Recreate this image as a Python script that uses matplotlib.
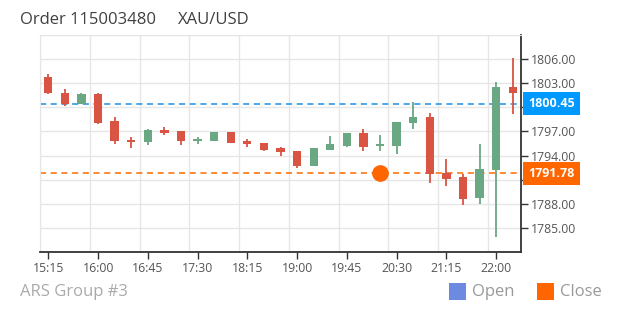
import matplotlib.pyplot as plt
from matplotlib.patches import Rectangle
from matplotlib.transforms import blended_transform_factory

plt.rcParams['font.family'] = ['Open Sans', 'DejaVu Sans']

# 15 minute candles, 15:15 .. 22:15
times = ['15:15', '15:30', '15:45', '16:00', '16:15', '16:30', '16:45', '17:00',
         '17:15', '17:30', '17:45', '18:00', '18:15', '18:30', '18:45', '19:00',
         '19:15', '19:30', '19:45', '20:00', '20:15', '20:30', '20:45', '21:00',
         '21:15', '21:30', '21:45', '22:00', '22:15']
opens = [1803.75, 1801.8, 1800.4, 1801.6, 1798.3, 1795.9, 1795.7, 1797.2,
         1797.05, 1795.8, 1795.8, 1796.95, 1795.75, 1795.6, 1794.9, 1794.55,
         1792.75, 1794.7, 1795.15, 1796.8, 1795.15, 1795.2, 1798.05, 1798.75,
         1791.8, 1791.3, 1788.7, 1792.2, 1802.55]
highs = [1804.1, 1802.25, 1801.8, 1801.8, 1798.75, 1796.25, 1797.25, 1797.55,
         1797.05, 1796.3, 1796.95, 1796.95, 1796.05, 1795.6, 1795.05, 1794.55,
         1795.0, 1796.45, 1796.8, 1797.3, 1796.6, 1798.2, 1800.65, 1799.3,
         1793.55, 1791.7, 1795.4, 1803.15, 1806.2]
lows = [1801.7, 1800.2, 1800.4, 1797.9, 1795.45, 1794.95, 1795.3, 1796.6,
        1795.3, 1795.45, 1795.8, 1795.6, 1795.1, 1794.55, 1793.95, 1792.45,
        1792.75, 1794.7, 1795.05, 1794.6, 1794.6, 1794.15, 1797.3, 1790.6,
        1790.2, 1787.8, 1787.95, 1783.9, 1799.2]
closes = [1801.8, 1800.4, 1801.65, 1798.1, 1795.8, 1795.7, 1797.15, 1796.8,
          1795.8, 1796.1, 1796.95, 1795.6, 1795.45, 1794.75, 1794.45, 1792.75,
          1794.9, 1795.4, 1796.8, 1795.1, 1795.45, 1798.2, 1798.75, 1791.75,
          1791.05, 1788.6, 1792.3, 1802.5, 1801.8]

tick_labels = ['15:15', '16:00', '16:45', '17:30', '18:15', '19:00', '19:45',
               '20:30', '21:15', '22:00']
y_ticks = [1785, 1788, 1791, 1794, 1797, 1800, 1803, 1806]

open_price = 1800.45
close_price = 1791.78
close_time = '20:15'


def to_min(s):
    h, m = s.split(':')
    return int(h) * 60 + int(m)


def main():
    W, H = 620, 310
    fig = plt.figure(figsize=(6.2, 3.1), dpi=100)
    left, right, top, bottom = 40, 521, 35, 252
    ax = fig.add_axes([left / W, 1 - bottom / H, (right - left) / W, (bottom - top) / H])

    red = '#d95443'
    green = '#6aa884'
    x = [to_min(t) for t in times]
    for xi, o, hi, lo, c in zip(x, opens, highs, lows, closes):
        col = green if c >= o else red
        ax.vlines(xi, lo, hi, color=col, lw=1.3, zorder=3)
        b = min(o, c)
        h = max(abs(c - o), 0.25)
        ax.bar(xi, h, bottom=b, width=7.5, color=col, zorder=4)

    ax.axhline(open_price, color='#1a8fe6', lw=1.1, ls=(0, (4, 3)), zorder=2)
    ax.axhline(close_price, color='#ff6a00', lw=1.1, ls=(0, (4, 3)), zorder=2)
    ax.plot(to_min(close_time), close_price, 'o', color='#ff6600', ms=11, zorder=5)

    x0 = to_min(times[0]) - 7.5
    x1 = to_min('22:00') + 22.5
    ax.set_xlim(x0, x1)
    ax.set_ylim(1782, 1809)

    # grid: vertical lines sit half a candle before each label
    tick_x = [to_min(t) for t in tick_labels]
    for gx in tick_x:
        ax.axvline(gx - 7.5, color='#e6e6e6', lw=1, zorder=0)
    for gy in range(1782, 1810, 3):
        ax.axhline(gy, color='#e6e6e6', lw=1, zorder=0)

    ax.set_xticks(tick_x)
    ax.set_xticklabels(tick_labels)
    ax.yaxis.tick_right()
    ax.set_yticks(y_ticks)
    ax.set_yticklabels(['' if v in (1800, 1791) else f'{v:.2f}' for v in y_ticks])
    ax.tick_params(axis='both', labelsize=8.8, colors='#333333', labelcolor='#555555',
                   length=5, width=1, pad=2)

    for s in ['left', 'top']:
        ax.spines[s].set_color('#e6e6e6')
    for s in ['right', 'bottom']:
        ax.spines[s].set_color('#333333')
        ax.spines[s].set_linewidth(1.3)

    tr = blended_transform_factory(ax.transAxes, ax.transData)
    for val, col in [(open_price, '#0099ff'), (close_price, '#ff6600')]:
        ax.text(1.0 + 7 / (right - left), val, f'{val:.2f}', transform=tr, ha='left',
                va='center', color='white', fontsize=9, fontweight='bold', clip_on=False,
                bbox=dict(boxstyle='square,pad=0.42', fc=col, ec='none'), zorder=6)

    fig.text(20 / W, 1 - 20 / H, 'Order 115003480', fontsize=12, color='#404040',
             ha='left', va='center')
    fig.text(178 / W, 1 - 20 / H, 'XAU/USD', fontsize=12, color='#404040',
             ha='left', va='center')
    fig.text(20 / W, 1 - 292 / H, 'ARS Group #3', fontsize=12, color='#aaaaaa',
             ha='left', va='center')

    for lx, lab, col in [(449, 'Open', '#6b8ae0'), (537, 'Close', '#ff6600')]:
        fig.patches.append(Rectangle((lx / W, 1 - 300 / H), 17 / W, 17 / H,
                                     transform=fig.transFigure, fc=col, ec='none'))
        fig.text((lx + 23) / W, 1 - 292 / H, lab, fontsize=12, color='#999999',
                 ha='left', va='center')

    fig.savefig('out.png', dpi=100)


if __name__ == "__main__":
    main()
